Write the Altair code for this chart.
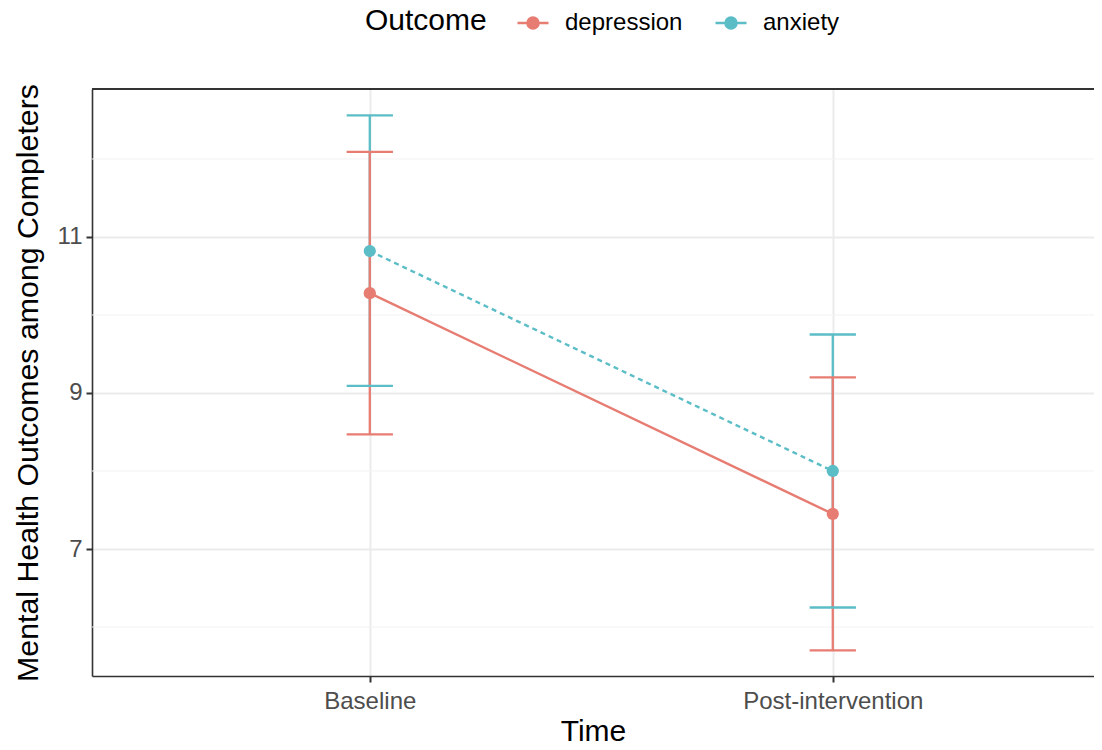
import altair as alt
import pandas as pd

times = ["Baseline", "Post-intervention"]
outcomes = ["depression", "anxiety"]
depression_mean = [10.28, 7.45]
depression_lower = [8.47, 5.70]
depression_upper = [12.09, 9.20]
anxiety_mean = [10.82, 8.00]
anxiety_lower = [9.09, 6.25]
anxiety_upper = [12.56, 9.75]
y_major = [7, 9, 11]
y_minor = [6, 8, 10, 12]
colors = ["#E77C72", "#5BBDC6"]

rows = []
for name, m, lo, hi in [
    ("anxiety", anxiety_mean, anxiety_lower, anxiety_upper),
    ("depression", depression_mean, depression_lower, depression_upper),
]:
    for i, t in enumerate(times):
        rows.append({"Outcome": name, "Time": t, "t": i + 1,
                     "mean": m[i], "lo": lo[i], "hi": hi[i]})
df = pd.DataFrame(rows)
minor_df = pd.DataFrame({"v": y_minor})

FONT = "Liberation Sans"
label_expr = " : ".join(
    [f"datum.value == {i + 1} ? '{t}'" for i, t in enumerate(times[:-1])] + [f"'{times[-1]}'"]
)

PLOT_W, PLOT_H = 1002, 587
x_scale = alt.Scale(domain=[0.4, 2.5642], nice=False, zero=False)
y_scale = alt.Scale(domain=[5.372, 12.897], nice=False, zero=False)

BORDER = "#333333"
x_axis = alt.Axis(values=[1, 2], labelExpr=label_expr, title="Time", labelLimit=0,
                  grid=True, gridColor="#EBEBEB", gridWidth=2,
                  domain=True, domainColor=BORDER, domainWidth=1.6,
                  tickColor=BORDER, tickWidth=2, tickSize=6,
                  labelFont=FONT, labelFontSize=24, labelColor="#4D4D4D", labelPadding=7,
                  titleFont=FONT, titleFontSize=30, titleFontWeight="normal",
                  titleColor="#000000", titlePadding=3)
y_axis = alt.Axis(values=y_major, title="Mental Health Outcomes among Completers",
                  grid=True, gridColor="#EBEBEB", gridWidth=2,
                  domain=True, domainColor=BORDER, domainWidth=1.6,
                  tickColor=BORDER, tickWidth=2, tickSize=6,
                  labelFont=FONT, labelFontSize=24, labelColor="#4D4D4D", labelPadding=4,
                  titleFont=FONT, titleFontSize=30.3, titleFontWeight="normal",
                  titleColor="#000000", titlePadding=14)

legend = alt.Legend(
    title="Outcome", orient="none", legendX=273, legendY=-83, direction="horizontal",
    titleOrient="left", titleFont=FONT, titleFontSize=30, titleFontWeight="normal",
    titleColor="#000000", titlePadding=29, titleBaseline="middle", titleLimit=0,
    labelFont=FONT, labelFontSize=24, labelColor="#000000", labelOffset=15, labelLimit=0,
    columnPadding=27, padding=0,
    symbolType="M-1,0L1,0M0.36,0A0.36,0.36,0,1,1,-0.36,0A0.36,0.36,0,1,1,0.36,0Z",
    symbolSize=961, symbolStrokeWidth=2.4, symbolOpacity=1,
)
cscale = alt.Scale(domain=outcomes, range=colors)
color = alt.Color("Outcome:N", scale=cscale, legend=legend)

base = alt.Chart(df)

minor = alt.Chart(minor_df).mark_rule(color="#F2F2F2", strokeWidth=1).encode(
    y=alt.Y("v:Q", scale=y_scale, axis=y_axis)
)
top_border = alt.Chart(minor_df).mark_rule(color=BORDER, strokeWidth=1.6).encode(
    x=alt.value(0), x2=alt.value(PLOT_W), y=alt.value(0)
)

bars = base.mark_rule(strokeWidth=2.3).encode(
    x=alt.X("t:Q", scale=x_scale, axis=x_axis),
    y=alt.Y("lo:Q", scale=y_scale, axis=y_axis),
    y2="hi:Q",
    color=color,
)
caps = base.transform_calculate(xl="datum.t - 0.05", xr="datum.t + 0.05")
cap_lo = caps.mark_rule(strokeWidth=2.3).encode(
    x=alt.X("xl:Q", scale=x_scale, axis=x_axis),
    x2="xr:Q",
    y=alt.Y("lo:Q", scale=y_scale, axis=y_axis),
    color=color,
)
cap_hi = caps.mark_rule(strokeWidth=2.3).encode(
    x=alt.X("xl:Q", scale=x_scale, axis=x_axis),
    x2="xr:Q",
    y=alt.Y("hi:Q", scale=y_scale, axis=y_axis),
    color=color,
)
line_dep = base.transform_filter(alt.datum.Outcome == outcomes[0]).mark_line(strokeWidth=2.4).encode(
    x=alt.X("t:Q", scale=x_scale, axis=x_axis),
    y=alt.Y("mean:Q", scale=y_scale, axis=y_axis),
    color=color,
)
line_anx = base.transform_filter(alt.datum.Outcome == outcomes[1]).mark_line(
    strokeWidth=2.4, strokeDash=[5, 4], color=colors[1]).encode(
    x=alt.X("t:Q", scale=x_scale, axis=x_axis),
    y=alt.Y("mean:Q", scale=y_scale, axis=y_axis),
)
points = base.mark_point(filled=True, size=150, opacity=1).encode(
    x=alt.X("t:Q", scale=x_scale, axis=x_axis),
    y=alt.Y("mean:Q", scale=y_scale, axis=y_axis),
    color=color,
)

chart = alt.layer(minor, bars, cap_lo, cap_hi, line_dep, line_anx, points, top_border).properties(
    width=PLOT_W, height=PLOT_H, autosize="none",
    padding={"left": 84, "top": 81, "right": 0, "bottom": 66},
).configure(background="white").configure_view(stroke=None)

chart.save("out.html", embed_options={"renderer": "svg", "actions": False})
